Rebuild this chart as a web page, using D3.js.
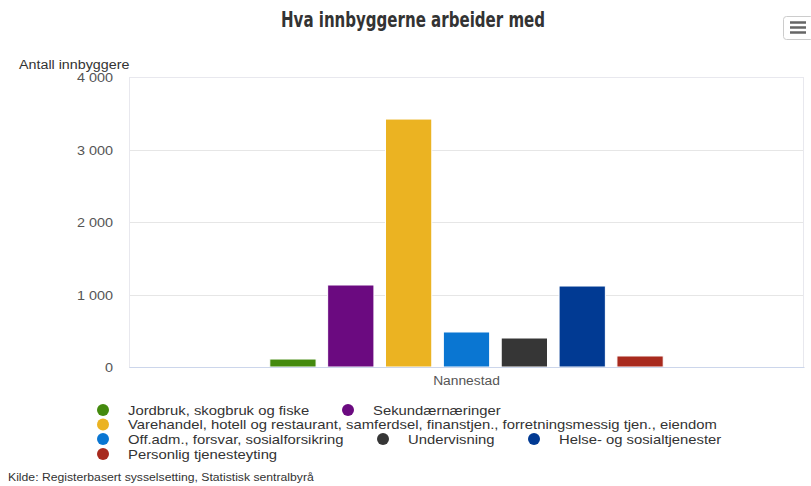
<!DOCTYPE html>
<html><head><meta charset="utf-8">
<script src="https://cdn.jsdelivr.net/npm/d3@7"></script>
<style>body{margin:0;background:#fff}svg{display:block}</style>
</head><body>
<svg id="c" width="811" height="486"></svg>
<script>
const title = "Hva innbyggerne arbeider med";
const yAxisTitle = "Antall innbyggere";
const category = ["Nannestad"];
const seriesNames = [
  "Jordbruk, skogbruk og fiske",
  "Sekundærnæringer",
  "Varehandel, hotell og restaurant, samferdsel, finanstjen., forretningsmessig tjen., eiendom",
  "Off.adm., forsvar, sosialforsikring",
  "Undervisning",
  "Helse- og sosialtjenester",
  "Personlig tjenesteyting"
];
const seriesValues = [110, 1131, 3420, 483, 400, 1117, 152];
const seriesColors = ["#448a0e", "#6b0a80", "#ebb322", "#0a76d2", "#363636", "#013a93", "#a82a1e"];
const yTicks = [0, 1000, 2000, 3000, 4000];
const source = "Kilde: Registerbasert sysselsetting, Statistisk sentralbyrå";

const svg = d3.select("#c");
const font = "'Liberation Sans', Arial, sans-serif";
const L = 129, R = 804, T = 77, B = 367;

function stretch(sel, f) {
  sel.each(function () {
    const w = this.getComputedTextLength();
    d3.select(this).attr("textLength", w * f).attr("lengthAdjust", "spacingAndGlyphs");
  });
}

const y = d3.scaleLinear().domain([0, 4000]).range([B, T]);
const x0 = d3.scaleBand().domain(category).range([L, R]).paddingInner(0).paddingOuter(0);
const x1 = d3.scaleBand().domain(seriesNames.map((d, i) => i))
  .range([L + x0.bandwidth() * 0.2, L + x0.bandwidth() * 0.8]).paddingInner(0.2).paddingOuter(0.1);

// Title
svg.append("text").attr("x", 413).attr("y", 27).attr("text-anchor", "middle")
  .attr("font-family", "'Liberation Sans Narrow', 'DejaVu Sans Condensed', sans-serif")
  .attr("font-weight", "bold").attr("font-size", 21).attr("fill", "#333")
  .attr("textLength", 264).attr("lengthAdjust", "spacingAndGlyphs").text(title);

// Menu button
const mb = svg.append("g");
mb.append("rect").attr("x", 783.5).attr("y", 16.5).attr("width", 30).attr("height", 23).attr("rx", 3)
  .attr("fill", "#fff").attr("stroke", "#ccc");
[22, 27, 32].forEach(yy => mb.append("line").attr("x1", 790).attr("x2", 806).attr("y1", yy + 0.5).attr("y2", yy + 0.5)
  .attr("stroke", "#666").attr("stroke-width", 2.5));

// Grid
const grid = svg.append("g");
yTicks.forEach(t => grid.append("line").attr("x1", L).attr("x2", R)
  .attr("y1", Math.round(y(t)) + 0.5).attr("y2", Math.round(y(t)) + 0.5)
  .attr("stroke", "#e6e6e6").attr("stroke-width", 1));
svg.append("rect").attr("x", L + 0.5).attr("y", T + 0.5).attr("width", R - L - 1).attr("height", B - T)
  .attr("fill", "none").attr("stroke", "#e8e8ee").attr("stroke-width", 1);

// Y axis labels
const yAxis = d3.axisLeft(y).tickValues(yTicks).tickSize(0).tickPadding(16)
  .tickFormat(d => d3.format(",")(d).replace(/,/g, " "));
const ya = svg.append("g").attr("transform", `translate(${L},0)`).call(yAxis);
ya.select(".domain").remove();
ya.selectAll("text").attr("font-family", font).attr("font-size", 12).attr("fill", "#555").attr("dy", "0.38em");
stretch(ya.selectAll("text"), 1.2);

const yt = svg.append("text").attr("x", 19).attr("y", 69).attr("font-family", font).attr("font-size", 12)
  .attr("fill", "#333").text(yAxisTitle);
stretch(yt, 1.19);

// Bars
svg.append("g").selectAll("rect").data(seriesValues).join("rect")
  .attr("x", (d, i) => x1(i)).attr("width", x1.bandwidth())
  .attr("y", d => y(d)).attr("height", d => B - y(d))
  .attr("fill", (d, i) => seriesColors[i]).attr("stroke", "#fff").attr("stroke-width", 1);

// X axis
const xAxis = d3.axisBottom(x0).tickSize(0).tickPadding(9);
const xa = svg.append("g").attr("transform", `translate(0,${B})`).call(xAxis);
xa.select(".domain").attr("stroke", "#ccd6eb");
xa.selectAll("text").attr("font-family", font).attr("font-size", 12).attr("fill", "#555");
stretch(xa.selectAll("text"), 1.15);

// Legend
const legendPos = [
  [103, 410], [348, 410],
  [103, 424.5],
  [103, 439], [383, 439], [534, 439],
  [103, 454]
];
const lg = svg.append("g").selectAll("g").data(seriesNames).join("g")
  .attr("transform", (d, i) => `translate(${legendPos[i][0]},${legendPos[i][1]})`);
lg.append("circle").attr("r", 6).attr("fill", (d, i) => seriesColors[i]);
lg.append("text").attr("x", 25).attr("dy", "0.35em").attr("font-family", font).attr("font-size", 13)
  .attr("fill", "#333").text(d => d);
stretch(lg.selectAll("text"), 1.14);

// Source
const src = svg.append("text").attr("x", 8).attr("y", 481).attr("font-family", font).attr("font-size", 10)
  .attr("fill", "#333").text(source);
stretch(src, 1.22);
</script>
</body></html>
